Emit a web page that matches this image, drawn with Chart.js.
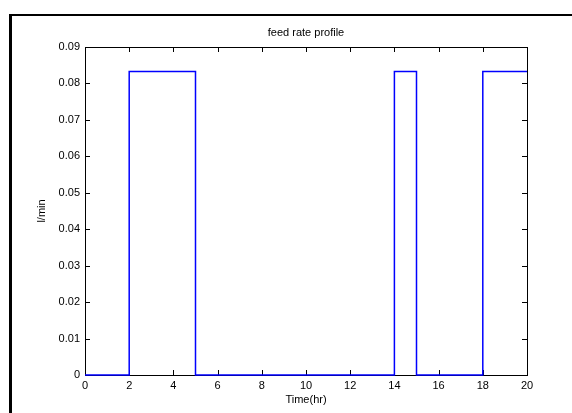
<!DOCTYPE html>
<html>
<head>
<meta charset="utf-8">
<script src="https://cdn.jsdelivr.net/npm/chart.js@4/dist/chart.umd.min.js"></script>
<style>
  html, body { margin: 0; padding: 0; background: #fff; }
  #wrap { position: relative; width: 572px; height: 413px; overflow: hidden; }
  #frame {
    position: absolute; left: 9px; top: 14px; width: 700px; height: 500px;
    border-left: 3px solid #000; border-top: 2px solid #000;
  }
  #chart { position: absolute; left: 0; top: 0; }
</style>
</head>
<body>
<div id="wrap">
  <div id="frame"></div>
  <canvas id="chart" width="572" height="413"></canvas>
</div>
<script>
// switching times (hr) and the feed rate that starts at each one (l/min)
const feedTimes = [0, 2, 5, 14, 15, 18, 20];
const feedRates = [0, 0.0833, 0, 0.0833, 0, 0.0833, 0.0833];

const xTicks = [0, 2, 4, 6, 8, 10, 12, 14, 16, 18, 20];
const yTicks = [0, 0.01, 0.02, 0.03, 0.04, 0.05, 0.06, 0.07, 0.08, 0.09];
const yTickLabels = ['0', '0.01', '0.02', '0.03', '0.04', '0.05', '0.06', '0.07', '0.08', '0.09'];

const FONT = "'Liberation Sans', Arial, sans-serif";
Chart.defaults.font.family = FONT;
Chart.defaults.font.size = 11;
Chart.defaults.color = '#000';

// matlab-style box with inward ticks on all four sides
const boxTicksPlugin = {
  id: 'boxTicks',
  beforeDatasetsDraw(chart) {
    const { ctx, chartArea: a, scales } = chart;
    const len = 5;
    ctx.save();
    ctx.strokeStyle = '#000';
    ctx.lineWidth = 1;
    ctx.beginPath();
    scales.x.ticks.forEach(t => {
      const px = Math.round(scales.x.getPixelForValue(t.value)) + 0.5;
      ctx.moveTo(px, a.bottom); ctx.lineTo(px, a.bottom - len);
      ctx.moveTo(px, a.top); ctx.lineTo(px, a.top + len);
    });
    scales.y.ticks.forEach(t => {
      const py = Math.round(scales.y.getPixelForValue(t.value)) + 0.5;
      ctx.moveTo(a.left, py); ctx.lineTo(a.left + len, py);
      ctx.moveTo(a.right, py); ctx.lineTo(a.right - len, py);
    });
    ctx.stroke();
    ctx.strokeRect(Math.round(a.left) + 0.5, Math.round(a.top) + 0.5,
      Math.round(a.right - a.left), Math.round(a.bottom - a.top));
    ctx.restore();
  },
};

new Chart(document.getElementById('chart').getContext('2d'), {
  type: 'line',
  data: {
    datasets: [{
      label: 'feed rate',
      data: feedTimes.map((t, i) => ({ x: t, y: feedRates[i] })),
      borderColor: '#0000ff',
      borderWidth: 1.5,
      pointRadius: 0,
      fill: false,
      stepped: 'before',
      tension: 0,
      clip: 2,
    }],
  },
  options: {
    responsive: false,
    animation: false,
    events: [],
    layout: { padding: { left: 0, right: 45, top: 0, bottom: 0 } },
    plugins: {
      legend: { display: false },
      tooltip: { enabled: false },
      title: {
        display: true,
        text: 'feed rate profile',
        fullSize: false,
        color: '#000',
        font: { size: 11, weight: 'normal', lineHeight: 1.2 },
        padding: { top: 26, bottom: 7.8 },
      },
    },
    scales: {
      x: {
        type: 'linear',
        min: 0,
        max: 20,
        afterBuildTicks: scale => { scale.ticks = xTicks.map(v => ({ value: v })); },
        afterFit: scale => { scale.height = 38; },
        grid: { display: false, drawTicks: false },
        border: { display: false },
        ticks: { padding: 4, maxRotation: 0, autoSkip: false, callback: v => String(v) },
        title: {
          display: true,
          text: 'Time(hr)',
          font: { size: 11, lineHeight: 1.2 },
          padding: { top: 0, bottom: 6.4 },
        },
      },
      y: {
        type: 'linear',
        min: 0,
        max: 0.09,
        afterBuildTicks: scale => { scale.ticks = yTicks.map(v => ({ value: v })); },
        afterFit: scale => { scale.width = 85; },
        grid: { display: false, drawTicks: false },
        border: { display: false },
        ticks: {
          padding: 5,
          autoSkip: false,
          callback: (v, i) => yTickLabels[i],
        },
        title: {
          display: true,
          text: 'l/min',
          font: { size: 11, lineHeight: 1.2 },
          padding: { top: 35, bottom: 0 },
        },
      },
    },
  },
  plugins: [boxTicksPlugin],
});
</script>
</body>
</html>
